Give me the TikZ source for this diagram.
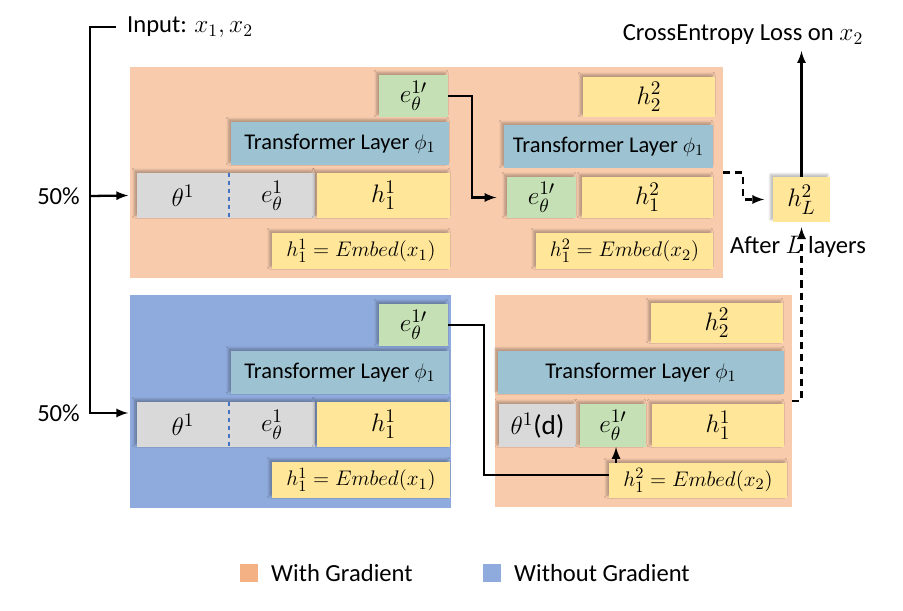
\documentclass[tikz,border=0pt]{standalone}
\usepackage{fontspec}
\setmainfont{Carlito}
\usepackage{amsmath}
\usetikzlibrary{positioning}
\usetikzlibrary{shadows.blur}

\definecolor{gradbg}{HTML}{F8CBAD}
\definecolor{gradkey}{HTML}{F4B183}
\definecolor{nogradbg}{HTML}{8FAADC}
\definecolor{tfblue}{HTML}{9DC3D3}
\definecolor{hyellow}{HTML}{FFE699}
\definecolor{egreen}{HTML}{C5E0B4}
\definecolor{pgray}{HTML}{D9D9D9}
\definecolor{dotblue}{HTML}{4472C4}

\newcommand{\lblfont}{\fontsize{15.5}{18}\selectfont}
\newcommand{\embfont}{\fontsize{12.8}{15}\selectfont}
\newcommand{\tffont}{\fontsize{12.8}{15}\selectfont}

\tikzset{
 pane/.style={inner sep=0pt, outer sep=0pt},
 blk/.style={inner sep=0pt, outer sep=0pt, blur shadow={shadow xshift=-1.4pt, shadow yshift=1.4pt, shadow blur radius=1.4pt, shadow blur steps=6, shadow opacity=28}},
 line/.style={line width=1.3pt, -latex},
 dline/.style={line width=1.3pt, -latex, dash pattern=on 4pt off 3pt},
 sep/.style={dotblue, line width=1.3pt, dash pattern=on 2.5pt off 2pt}
}

% box from pixel corners: name, x1, y1, x2, y2, style, text
\newcommand{\blk}[7]{%
 \node[#6, minimum width={(#4-#2)*0.02cm}, minimum height={(#5-#3)*0.02cm}] (#1) at ({(#2+#4)/2},{(#3+#5)/2}) {#7};}

\begin{document}
\begin{tikzpicture}[x=0.02cm, y=-0.02cm, font=\fontsize{14}{17}\selectfont]
 \useasboundingbox (0,0) rectangle (903,611);

 \blk{grad1}{130}{67}{723}{278}{pane,fill=gradbg}{}
 \blk{nograd}{130}{295}{451}{508}{pane,fill=nogradbg}{}
 \blk{grad2}{495}{295}{792}{507}{pane,fill=gradbg}{}

 \blk{et1}{379}{75}{448}{117}{blk,fill=egreen}{\lblfont $e_{\theta}^{1\prime}$}
 \blk{tf1}{231}{122}{449}{165}{blk,fill=tfblue}{\tffont Transformer Layer $\phi_1$}
 \blk{g1}{137}{173}{315}{218}{blk,fill=pgray}{}
 \node (th1) at (183,196) {\lblfont $\theta^1$};
 \node (eb1) at (272,196) {\lblfont $e_{\theta}^{1}$};
 \draw[sep] (229,173) -- (229,218);
 \blk{h11}{317}{173}{450}{218}{blk,fill=hyellow}{\lblfont $h_1^1$}
 \blk{emb1}{272}{233}{450}{269}{blk,fill=hyellow}{\embfont $h_1^1 = Embed(x_1)$}

 \blk{h22}{583}{77}{715}{117}{blk,fill=hyellow}{\lblfont $h_2^2$}
 \blk{tf2}{504}{125}{713}{168}{blk,fill=tfblue}{\tffont Transformer Layer $\phi_1$}
 \blk{ez1}{507}{177}{576}{218}{blk,fill=egreen}{\lblfont $e_{\theta}^{1\prime}$}
 \blk{h12}{582}{177}{713}{218}{blk,fill=hyellow}{\lblfont $h_1^2$}
 \blk{emb2}{536}{233}{713}{269}{blk,fill=hyellow}{\embfont $h_1^2 = Embed(x_2)$}

 \blk{et3}{379}{304}{448}{346}{blk,fill=egreen}{\lblfont $e_{\theta}^{1\prime}$}
 \blk{tf3}{231}{351}{449}{394}{blk,fill=tfblue}{\tffont Transformer Layer $\phi_1$}
 \blk{g3}{137}{402}{315}{447}{blk,fill=pgray}{}
 \node (th3) at (183,425) {\lblfont $\theta^1$};
 \node (eb3) at (272,425) {\lblfont $e_{\theta}^{1}$};
 \draw[sep] (229,402) -- (229,447);
 \blk{h13}{317}{402}{450}{447}{blk,fill=hyellow}{\lblfont $h_1^1$}
 \blk{emb3}{272}{462}{450}{498}{blk,fill=hyellow}{\embfont $h_1^1 = Embed(x_1)$}

 \blk{h24}{651}{303}{783}{343}{blk,fill=hyellow}{\lblfont $h_2^2$}
 \blk{tf4}{498}{351}{784}{394}{blk,fill=tfblue}{\tffont Transformer Layer $\phi_1$}
 \blk{g4}{499}{404}{576}{447}{blk,fill=pgray}{\lblfont $\theta^1$(d)}
 \blk{ez4}{580}{404}{646}{447}{blk,fill=egreen}{\lblfont $e_{\theta}^{1\prime}$}
 \blk{h14}{652}{404}{784}{447}{blk,fill=hyellow}{\lblfont $h_1^1$}
 \blk{emb4}{609}{463}{787}{498}{blk,fill=hyellow}{\embfont $h_1^2 = Embed(x_2)$}

 \blk{hL}{773}{177}{830}{222}{blk,fill=hyellow}{\lblfont $h_L^2$}
 \node (loss) at (743,35) {CrossEntropy Loss on $x_2$};
 \node (after) at (798,247) {After $L$ layers};
 \node[anchor=west] (inp) at (121,27) {Input: $x_1, x_2$};
 \node[anchor=east] (p1) at (86,196) {50\%};
 \node[anchor=east] (p2) at (86,413) {50\%};

 \coordinate (b1) at (90,196);
 \coordinate (b2) at (90,413);
 \draw[line] ([xshift=-3pt]inp.west) -| (b2) -- ([xshift=-5pt]b2 -| g3.west);
 \draw[line] (b1) -- ([xshift=-5pt]g1.west);
 \draw[line] (et1.east) -- ++(24,0) |- ([xshift=-6pt]ez1.west);
 \draw[dline] (grad1.east) -- ++(20,0) |- ([xshift=-5pt]hL.west);
 \draw[line] (hL.north) -- (hL.north |- loss.south);
 \draw[dline] (grad2.east) -| ([yshift=-3pt]hL.south);
 \draw[line, -] (et3.east) -- ++(36,0) |- ([yshift=3pt]emb4.west);
 \draw[line] ([xshift=4pt]emb4.north west) -- ([xshift=4pt]emb4.north west |- ez4.south);

 \node[pane, fill=gradkey, minimum size=0.36cm] (k1) at (249,573) {};
 \node[right=4pt of k1] (k1t) {With Gradient};
 \node[pane, fill=nogradbg, minimum size=0.36cm] (k2) at (492,573) {};
 \node[right=4pt of k2] (k2t) {Without Gradient};
\end{tikzpicture}
\end{document}
